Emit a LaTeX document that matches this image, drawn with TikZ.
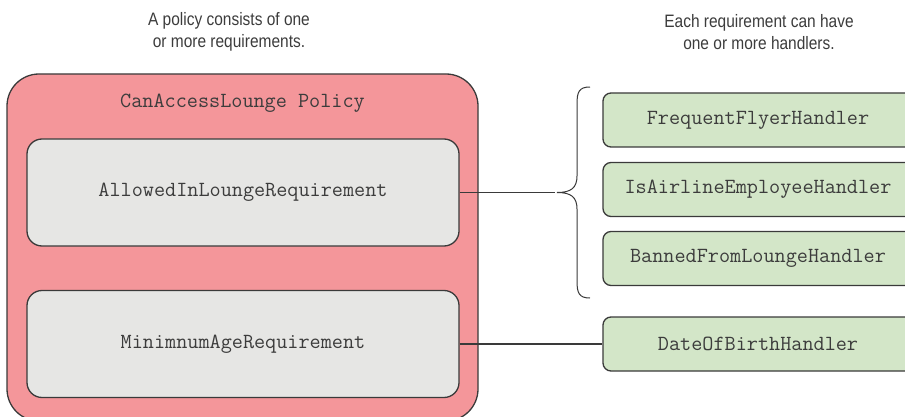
\documentclass[tikz,border=0pt]{standalone}
\usepackage{fontspec}
\newfontfamily\capfont{Liberation Sans}[FakeStretch=0.86]
\definecolor{policyfill}{HTML}{F4969A}
\definecolor{reqfill}{HTML}{E6E6E4}
\definecolor{handfill}{HTML}{D3E6C8}
\definecolor{edge}{HTML}{3A3A3A}
\definecolor{txt}{HTML}{3C3C3C}
\tikzset{
  monotext/.style={font=\ttfamily\fontsize{21.6}{24}\selectfont, text=txt},
  policybox/.style={draw=edge, line width=1.3pt, fill=policyfill, rounded corners=32pt, inner sep=0pt},
  reqbox/.style={draw=edge, line width=1.3pt, fill=reqfill, rounded corners=15pt, minimum width=432pt, minimum height=107pt, inner sep=0pt, monotext},
  handbox/.style={draw=edge, line width=1.3pt, fill=handfill, rounded corners=8pt, minimum width=310pt, minimum height=54pt, inner sep=0pt, monotext},
  conn/.style={draw=edge, line width=1.3pt},
  bracestyle/.style={draw=edge, line width=1pt},
  caption/.style={font=\capfont\fontsize{18}{22}\selectfont, text=txt, align=center}
}
\begin{document}
\begin{tikzpicture}[x=1pt,y=-1pt]
\useasboundingbox (0,0) rectangle (905,417);
\clip (0,0) rectangle (905,417);
% captions
\node[caption] (cap1) at (229,32) {A policy consists of one\\or more requirements.};
\node[caption] (cap2) at (759,32) {Each requirement can have\\one or more handlers.};
% policy container
\node[policybox, minimum width=471pt, minimum height=347pt] (policy) at (242.5,247.5) {};
\node[monotext] (ptitle) at (242.5,103) {CanAccessLounge Policy};
% requirements
\node[reqbox] (req1) at (243,192.5) {AllowedInLoungeRequirement};
\node[reqbox] (req2) at (243,344) {MinimnumAgeRequirement};
% handlers
\node[handbox] (h1) at (758,120) {FrequentFlyerHandler};
\node[handbox] (h2) at (758,189.5) {IsAirlineEmployeeHandler};
\node[handbox] (h3) at (758,258.5) {BannedFromLoungeHandler};
\node[handbox] (h4) at (758,344) {DateOfBirthHandler};
% brace
\coordinate (tip) at (557,192.5);
\draw[bracestyle] (590,87) .. controls (579,87) and (577,92) .. (577,104)
  -- (577,176) .. controls (577,188) and (571,192.5) .. (tip)
  .. controls (571,192.5) and (577,197) .. (577,209)
  -- (577,281) .. controls (577,293) and (579,298) .. (590,298);
% connectors
\draw[conn] (req1.east) -- ([xshift=-2pt]tip);
\draw[conn] (req2.east) -- (h4.west);
\end{tikzpicture}
\end{document}
